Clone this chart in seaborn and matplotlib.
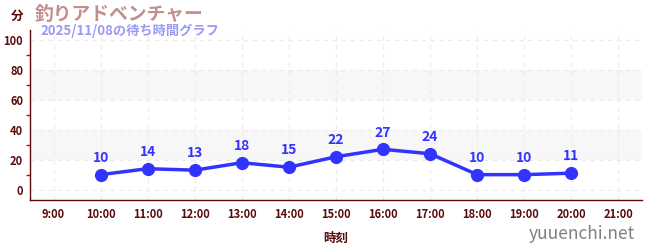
import matplotlib
matplotlib.use("Agg")
import matplotlib.pyplot as plt
import seaborn as sns
import pandas as pd
from matplotlib.ticker import MultipleLocator

hours = [10, 11, 12, 13, 14, 15, 16, 17, 18, 19, 20]
waits = [10, 14, 13, 18, 15, 22, 27, 24, 10, 10, 11]
tick_hours = list(range(9, 22))
tick_labels = [f"{h}:00" for h in tick_hours]
title = "釣りアドベンチャー"
subtitle = "2025/11/08の待ち時間グラフ"

sns.set_theme(style="white")
plt.rcParams['font.family'] = ['Noto Sans CJK JP', 'DejaVu Sans']

df = pd.DataFrame({"hour": hours, "wait": waits})

fig = plt.figure(figsize=(6.5, 2.5), dpi=100)
ax = fig.add_axes([30/650, 50/250, 612/650, 170/250])

dark = "#5a0a0a"
blue = "#3333ff"

for lo, hi in [(20, 40), (60, 80)]:
    ax.axhspan(lo, hi, color="#f7f7f7", zorder=0, lw=0)

sns.lineplot(data=df, x="hour", y="wait", ax=ax, color=blue, lw=2.5,
             marker="o", markersize=9.5, markeredgewidth=0, zorder=3)

for h, w in zip(hours, waits):
    ax.annotate(str(w), (h, w), xytext=(0, 7), textcoords="offset points",
                ha="center", va="bottom", color=blue, fontsize=10, fontweight="bold")

ax.set_xlim(8.5, 21.5)
ax.set_ylim(-7, 107)
ax.set_xticks(tick_hours)
ax.set_xticklabels(tick_labels)
ax.set_yticks([0, 20, 40, 60, 80, 100])
ax.yaxis.set_minor_locator(MultipleLocator(10))
ax.tick_params(axis="both", which="major", labelsize=8, colors=dark, length=4, width=1,
               direction="out")
ax.tick_params(axis="x", which="major", color="#555555", pad=2)
ax.tick_params(axis="y", which="minor", length=3, color="#dd0000", left=True)
ax.tick_params(axis="y", which="major", color="#222222", pad=1)
for lab in ax.get_xticklabels() + ax.get_yticklabels():
    lab.set_fontweight("bold")
    lab.set_color(dark)

ax.grid(True, which="major", color="#ebebeb", ls=(0, (4, 4)), lw=0.8)
ax.set_axisbelow(True)
for s in ["top", "right"]:
    ax.spines[s].set_visible(False)
ax.spines["left"].set_color(dark)
ax.spines["bottom"].set_color(dark)
ax.spines["left"].set_linewidth(1)
ax.spines["bottom"].set_linewidth(1)

ax.set_xlabel("時刻", color=dark, fontsize=9, fontweight="bold", labelpad=8)
ax.set_ylabel("")

fig.text(17/650, 1 - 16/250, "分", color=dark, fontsize=9, fontweight="bold",
         ha="center", va="center")
fig.text(35/650, 1 - 14/250, title, color="#c09090", fontsize=13.5, fontweight="bold",
         ha="left", va="center")
fig.text(40/650, 1 - 31/250, subtitle, color="#9a9af0", fontsize=9.5, fontweight="bold",
         ha="left", va="center")
fig.text(635/650, 1 - 234/250, "yuuenchi.net", color="#808080", fontsize=12.5,
         ha="right", va="center")

fig.savefig("out.png", dpi=100)
